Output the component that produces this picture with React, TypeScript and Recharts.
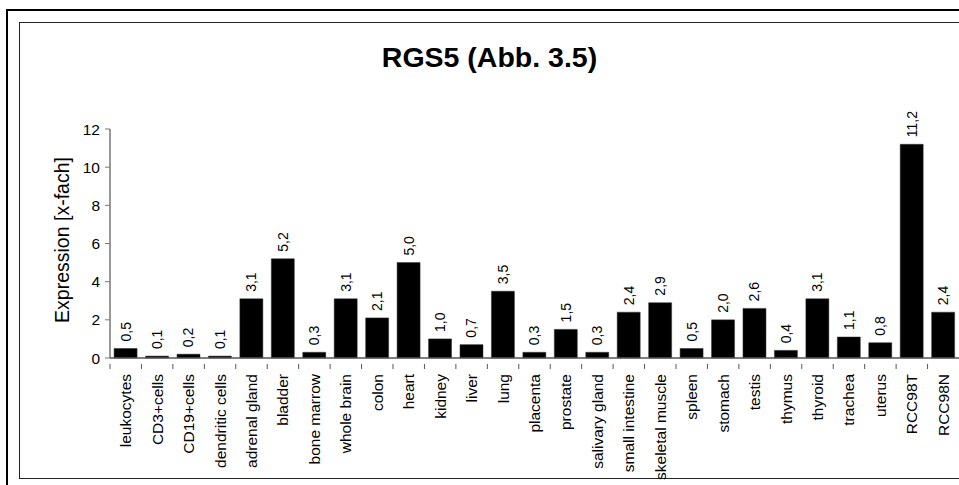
import React from 'react';
import { BarChart, Bar, XAxis, YAxis, LabelList } from 'recharts';

const tissues = [
  'leukocytes', 'CD3+cells', 'CD19+cells', 'dendritic cells', 'adrenal gland', 'bladder',
  'bone marrow', 'whole brain', 'colon', 'heart', 'kidney', 'liver', 'lung', 'placenta',
  'prostate', 'salivary gland', 'small intestine', 'skeletal muscle', 'spleen', 'stomach',
  'testis', 'thymus', 'thyroid', 'trachea', 'uterus', 'RCC98T', 'RCC98N',
];
const expression = [
  0.5, 0.1, 0.2, 0.1, 3.1, 5.2, 0.3, 3.1, 2.1, 5.0, 1.0, 0.7, 3.5, 0.3,
  1.5, 0.3, 2.4, 2.9, 0.5, 2.0, 2.6, 0.4, 3.1, 1.1, 0.8, 11.2, 2.4,
];
const yTicks = [0, 2, 4, 6, 8, 10, 12];

const data = tissues.map((name, i) => ({ name, value: expression[i] }));

const W = 959;
const H = 485;
const PLOT_LEFT = 110;
const PLOT_RIGHT = 959;
const STEP = (PLOT_RIGHT - PLOT_LEFT) / tissues.length;
const FONT = '"Liberation Sans", Arial, sans-serif';

// category label rotated, plus a tick mark on the left edge of each category
const CategoryTick = (props: any) => {
  const { x, y, payload } = props;
  const edge = x - STEP / 2;
  return (
    <g>
      <line x1={edge} x2={edge} y1={y - 2} y2={y + 3} stroke="#555" strokeWidth={1} />
      <text
        transform={`translate(${x},${y + 8}) rotate(-90)`}
        textAnchor="end"
        dominantBaseline="central"
        fontSize={15.5}
        fontFamily={FONT}
        fill="#000"
      >
        {payload.value}
      </text>
    </g>
  );
};

const ValueLabel = (props: any) => {
  const { x, y, width, value } = props;
  const cx = x + width / 2;
  return (
    <text
      transform={`translate(${cx},${y - 7}) rotate(-90)`}
      textAnchor="start"
      dominantBaseline="central"
      fontSize={14}
      fontFamily={FONT}
      fill="#000"
    >
      {Number(value).toFixed(1).replace('.', ',')}
    </text>
  );
};

const AxisTitle = () => (
  <text
    transform="translate(62,240) rotate(-90)"
    textAnchor="middle"
    dominantBaseline="central"
    fontSize={19.5}
    fontFamily={FONT}
    fill="#000"
  >
    Expression [x-fach]
  </text>
);

export default function App() {
  return (
    <div style={{ position: 'absolute', left: 0, top: 0, width: W, height: H, overflow: 'hidden', background: '#fff' }}>
      <div style={{ position: 'absolute', left: 6, top: 9, width: 1000, height: 1000, border: '2px solid #000' }} />
      <div style={{ position: 'absolute', left: 19, top: 22, width: 1000, height: 455, border: '1.5px solid #222' }} />
      <svg width={W} height={H} style={{ position: 'absolute', left: 0, top: 0 }}>
        <text x={489.5} y={67} textAnchor="middle" fontSize={28.5} fontWeight="bold" fontFamily={FONT} fill="#000">
          RGS5 (Abb. 3.5)
        </text>
      </svg>
      <div style={{ position: 'absolute', left: 0, top: 0 }}>
        <BarChart
          width={W}
          height={H}
          data={data}
          margin={{ top: 129, right: 0, bottom: 7, left: 0 }}
          barCategoryGap="13%"
        >
          <YAxis
            width={PLOT_LEFT}
            domain={[0, 12]}
            ticks={yTicks}
            interval={0}
            tickSize={5}
            tickMargin={5}
            axisLine={{ stroke: '#777', strokeWidth: 1.5 }}
            tickLine={{ stroke: '#777' }}
            tick={{ fontSize: 15.5, fontFamily: FONT, fill: '#000' }}
            label={<AxisTitle />}
          />
          <XAxis
            dataKey="name"
            height={120}
            interval={0}
            tickLine={false}
            axisLine={{ stroke: '#555', strokeWidth: 1.5 }}
            tick={<CategoryTick />}
          />
          <Bar dataKey="value" fill="#000" stroke="#333" strokeWidth={0.5} isAnimationActive={false}>
            <LabelList dataKey="value" content={<ValueLabel />} />
          </Bar>
        </BarChart>
      </div>
    </div>
  );
}
